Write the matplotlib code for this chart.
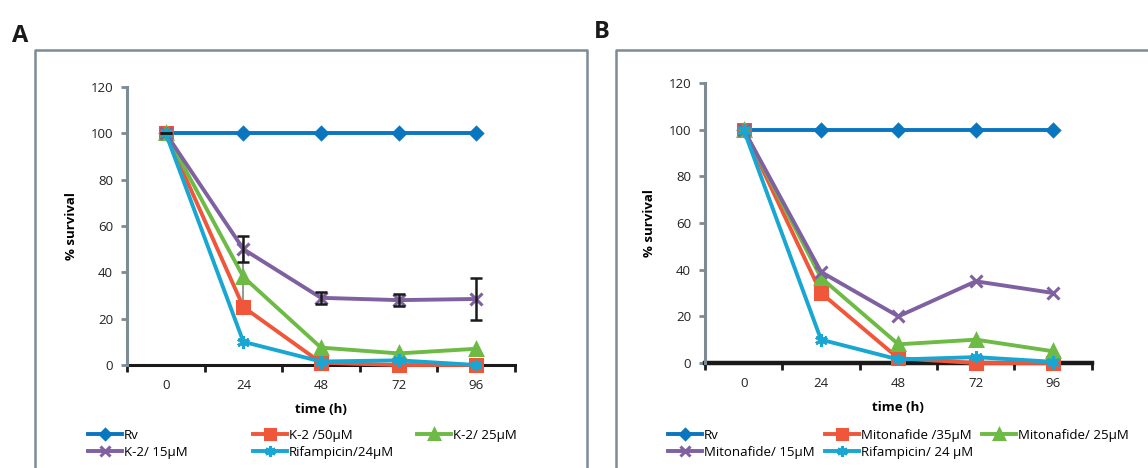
import matplotlib
matplotlib.use('Agg')
import matplotlib.pyplot as plt
from matplotlib.lines import Line2D

plt.rcParams['font.family'] = ['Open Sans', 'DejaVu Sans']

hours = [0, 24, 48, 72, 96]
y_ticks = [0, 20, 40, 60, 80, 100, 120]

# panel A
a_labels = ['Rv', 'K-2 /50µM', 'K-2/ 25µM', 'K-2/ 15µM', 'Rifampicin/24µM']
a_rv = [100, 100, 100, 100, 100]
a_k50 = [100, 25, 1, 0, 0]
a_k25 = [100, 38, 7.5, 5, 7]
a_k15 = [100, 50, 29, 28, 28.5]
a_rif = [100, 10, 1.5, 2, 0]
a_k15_err = [0, 5.5, 2.5, 2.5, 9]
a_k25_err = [0, 15, 1, 0, 2]

# panel B
b_labels = ['Rv', 'Mitonafide /35µM', 'Mitonafide/ 25µM', 'Mitonafide/ 15µM',
            'Rifampicin/ 24 µM']
b_rv = [100, 100, 100, 100, 100]
b_m35 = [100, 30, 2, 0, 0]
b_m25 = [100, 36.5, 8, 10, 5]
b_m15 = [100, 39, 20, 35, 30]
b_rif = [100, 10, 1.5, 2.5, 0.5]
b_m35_err = [0, 2, 0, 0, 0]

colors = ['#0a76bf', '#f0563a', '#6dbb45', '#7f60a0', '#17a7d2']
markers = ['D', 's', '^', 'x', (6, 2, 0)]
msizes = [6, 9, 8, 9, 9]
grey = '#7d8b95'
W, H = 1148, 468


def draw_panel(ax, series, labels, xaxis_lw):
    handles = []
    for vals, lab, c, m, ms in zip(series, labels, colors, markers, msizes):
        h, = ax.plot(hours, vals, color=c, lw=2.8, marker=m, ms=ms,
                     mec=c, mew=2.2, label=lab, clip_on=False, zorder=3)
        handles.append(h)
    ax.set_xlim(-12, 108)
    ax.set_ylim(0, 120)
    ax.set_xticks([-12, 12, 36, 60, 84, 108])
    ax.set_xticklabels([])
    ax.set_xticks(hours, minor=True)
    ax.set_xticklabels([str(h) for h in hours], minor=True)
    ax.tick_params(axis='x', which='minor', length=0, pad=10, labelsize=9.5,
                   labelcolor='#222222')
    ax.tick_params(axis='x', which='major', direction='out', length=5,
                   width=2, color='#1a1a1a')
    ax.set_yticks(y_ticks)
    ax.tick_params(axis='y', direction='out', length=4, width=2, color=grey,
                   labelsize=9.5, labelcolor='#222222', pad=6)
    for s in ['top', 'right']:
        ax.spines[s].set_visible(False)
    ax.spines['left'].set_color(grey)
    ax.spines['left'].set_linewidth(2.2)
    ax.spines['bottom'].set_color('#1a1a1a')
    ax.spines['bottom'].set_linewidth(xaxis_lw)
    ax.spines['bottom'].set_zorder(2)
    ax.set_xlabel('time (h)', fontsize=9.5, fontweight='bold', labelpad=8)
    ax.set_ylabel('% survival', fontsize=9.5, fontweight='bold', labelpad=9)
    return handles


def legend_columns(handles, labels, col_x):
    # Excel-style legend: three columns, two rows
    cols = [[0, 3], [1, 4], [2]]
    for idx, x in zip(cols, col_x):
        fig.legend([handles[i] for i in idx], [labels[i] for i in idx],
                   loc='upper left', bbox_to_anchor=(x / W, 1 - 429 / H),
                   frameon=False, fontsize=9.5, handlelength=2.6,
                   handletextpad=0.1, labelspacing=0.3, borderpad=0,
                   borderaxespad=0, markerscale=0.85)


fig = plt.figure(figsize=(11.48, 4.68), dpi=100)

ax_a = fig.add_axes([0.1106, 0.2201, 0.3380, 0.5940])
ax_b = fig.add_axes([0.6141, 0.2244, 0.3370, 0.5983])

ax_a.errorbar(hours, a_k25, yerr=a_k25_err, fmt='none', ecolor='#999999',
              elinewidth=1.5, capsize=0, zorder=2)
ax_a.errorbar(hours, a_k15, yerr=a_k15_err, fmt='none', ecolor='#1a1a1a',
              elinewidth=1.8, capsize=4, capthick=1.8, zorder=4)
ha = draw_panel(ax_a, [a_rv, a_k50, a_k25, a_k15, a_rif], a_labels, 2.2)

ax_b.errorbar(hours, b_m35, yerr=b_m35_err, fmt='none', ecolor='#1a1a1a',
              elinewidth=1.8, capsize=4, capthick=1.8, zorder=2)
hb = draw_panel(ax_b, [b_rv, b_m35, b_m25, b_m15, b_rif], b_labels, 3.2)

legend_columns(ha, a_labels, [88, 253, 417])
legend_columns(hb, b_labels, [668, 825, 982])

# panel frames


def fig_line(xs, ys):
    fig.add_artist(Line2D([x / W for x in xs], [1 - y / H for y in ys],
                          color=grey, lw=1.8, transform=fig.transFigure))


fig_line([35, 35, 587, 587], [468, 50, 50, 468])
fig_line([616, 616, 1148], [468, 50, 50])

fig.text(12 / W, 1 - 42 / H, 'A', fontsize=17, fontweight='bold',
         color='#1a1a1a')
fig.text(594 / W, 1 - 38 / H, 'B', fontsize=17, fontweight='bold',
         color='#1a1a1a')

fig.savefig('out.png', dpi=100)
